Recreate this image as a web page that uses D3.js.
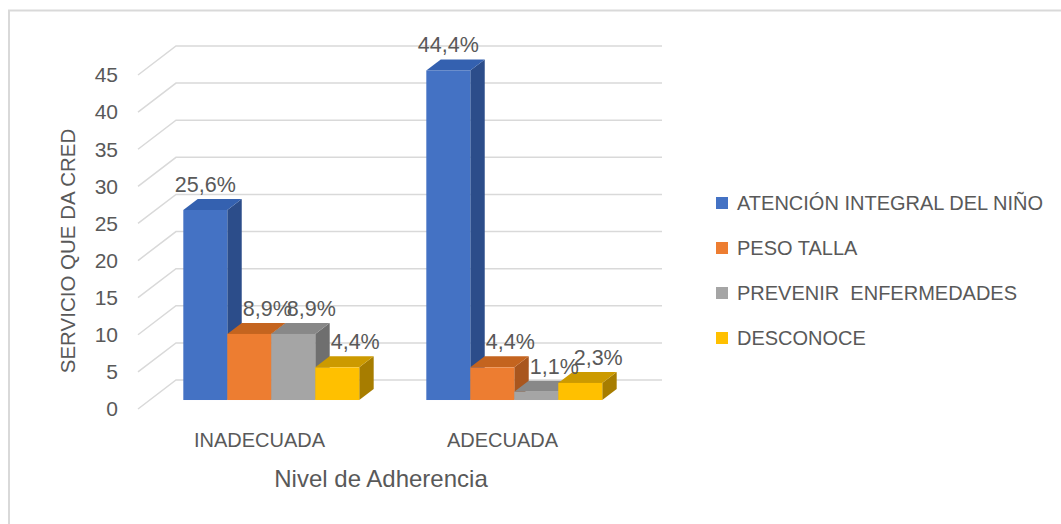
<!DOCTYPE html>
<html>
<head>
<meta charset="utf-8">
<script src="https://cdn.jsdelivr.net/npm/d3@7"></script>
<style>
  body { margin: 0; background: #fff; }
  text { font-family: "Liberation Sans", Arial, sans-serif; fill: #595959; }
</style>
</head>
<body>
<div id="chart"></div>
<script>
const categories = ['INADECUADA', 'ADECUADA'];
const series = ['ATENCIÓN INTEGRAL DEL NIÑO', 'PESO TALLA', 'PREVENIR  ENFERMEDADES', 'DESCONOCE'];
const atencion = [25.6, 44.4];
const pesoTalla = [8.9, 4.4];
const prevenir = [8.9, 1.1];
const desconoce = [4.4, 2.3];
const yTicks = [0, 5, 10, 15, 20, 25, 30, 35, 40, 45];

const values = [atencion, pesoTalla, prevenir, desconoce];
const colors = [
    {front: '#4472C4', top: '#3461b0', side: '#2c4d8a'},
    {front: '#ED7D31', top: '#c4641f', side: '#a9561e'},
    {front: '#A5A5A5', top: '#888888', side: '#6f6f6f'},
    {front: '#FFC000', top: '#cc9a00', side: '#a77d00'}
];

const width = 1061;
const height = 524;
// front wall of the 3d plot and depth vector
const plot = {left: 138, right: 624, top: 75, bottom: 409};
const depth = {dx: 38, dy: -29};
const barD0 = 0.31, barD1 = 0.69;

const svg = d3.select('#chart').append('svg')
    .attr('width', width)
    .attr('height', height);

// chart border (top and left visible)
svg.append('path')
    .attr('d', `M9,${height} V10.5 H${width}`)
    .attr('fill', 'none')
    .attr('stroke', '#d9d9d9')
    .attr('stroke-width', 2);

const x = d3.scaleBand()
    .domain(categories)
    .range([plot.left, plot.right])
    .paddingInner(0.276)
    .paddingOuter(0.138);

const xs = d3.scaleBand()
    .domain(d3.range(series.length))
    .range([0, x.bandwidth()]);

const y = d3.scaleLinear()
    .domain([0, 45])
    .range([plot.bottom, plot.top]);

const proj = (px, py, d) => [px + d * depth.dx, py + d * depth.dy];

// gridlines: side wall diagonal + back wall horizontal
const grid = svg.append('g')
    .attr('stroke', '#d9d9d9')
    .attr('stroke-width', 1.5)
    .attr('fill', 'none');
grid.selectAll('path')
    .data(yTicks)
    .join('path')
    .attr('d', t => {
        const a = proj(plot.left, y(t), 0);
        const b = proj(plot.left, y(t), 1);
        const c = proj(plot.right, y(t), 1);
        return `M${a}L${b}L${c}`;
    });

// y tick labels
svg.append('g')
    .selectAll('text')
    .data(yTicks)
    .join('text')
    .attr('x', 118)
    .attr('y', t => y(t))
    .attr('dy', '0.35em')
    .attr('text-anchor', 'end')
    .style('font-size', '21px')
    .text(t => t);

// y axis title
svg.append('text')
    .attr('transform', 'translate(75,251) rotate(-90)')
    .attr('text-anchor', 'middle')
    .style('font-size', '20.5px')
    .text('SERVICIO QUE DA CRED');

// bars
const bars = [];
categories.forEach((c, ci) => {
    values.forEach((vals, si) => {
        bars.push({cat: c, s: si, v: vals[ci]});
    });
});

const pts = arr => arr.map(p => p.join(',')).join(' ');

const barG = svg.append('g')
    .selectAll('g')
    .data(bars)
    .join('g');

barG.each(function(d) {
    const g = d3.select(this);
    const x0 = x(d.cat) + xs(d.s);
    const x1 = x0 + xs.bandwidth();
    const yb = y(0), yt = y(d.v);
    const col = colors[d.s];
    // side face
    g.append('polygon')
        .attr('points', pts([proj(x1, yb, barD0), proj(x1, yt, barD0), proj(x1, yt, barD1), proj(x1, yb, barD1)]))
        .attr('fill', col.side);
    // top face
    g.append('polygon')
        .attr('points', pts([proj(x0, yt, barD0), proj(x1, yt, barD0), proj(x1, yt, barD1), proj(x0, yt, barD1)]))
        .attr('fill', col.top);
    // front face
    const f0 = proj(x0, yt, barD0);
    g.append('rect')
        .attr('x', f0[0])
        .attr('y', f0[1])
        .attr('width', x1 - x0)
        .attr('height', yb - yt)
        .attr('fill', col.front);
});

// data labels
svg.append('g')
    .selectAll('text')
    .data(bars)
    .join('text')
    .attr('x', d => {
        const cx = x(d.cat) + xs(d.s) + xs.bandwidth() / 2;
        return proj(cx, 0, barD0)[0] + (d.s === 0 ? 0 : 18);
    })
    .attr('y', d => proj(0, y(d.v), barD1)[1] - 7)
    .attr('text-anchor', 'middle')
    .style('font-size', '21.5px')
    .text(d => d3.format('.1f')(d.v).replace('.', ',') + '%');

// category labels
svg.append('g')
    .selectAll('text')
    .data(categories)
    .join('text')
    .attr('x', c => x(c) + x.bandwidth() / 2)
    .attr('y', 447)
    .attr('text-anchor', 'middle')
    .style('font-size', '20px')
    .text(c => c);

// x axis title
svg.append('text')
    .attr('x', 381)
    .attr('y', 487)
    .attr('text-anchor', 'middle')
    .style('font-size', '24px')
    .text('Nivel de Adherencia');

// legend
const legend = svg.append('g')
    .selectAll('g')
    .data(series)
    .join('g')
    .attr('transform', (s, i) => `translate(716,${203 + i * 45})`);
legend.append('rect')
    .attr('x', 0)
    .attr('y', -6)
    .attr('width', 12)
    .attr('height', 12)
    .attr('fill', (s, i) => colors[i].front);
legend.append('text')
    .attr('x', 21)
    .attr('dy', '0.35em')
    .style('font-size', '20px')
    .style('white-space', 'pre')
    .text(s => s);
</script>
</body>
</html>
